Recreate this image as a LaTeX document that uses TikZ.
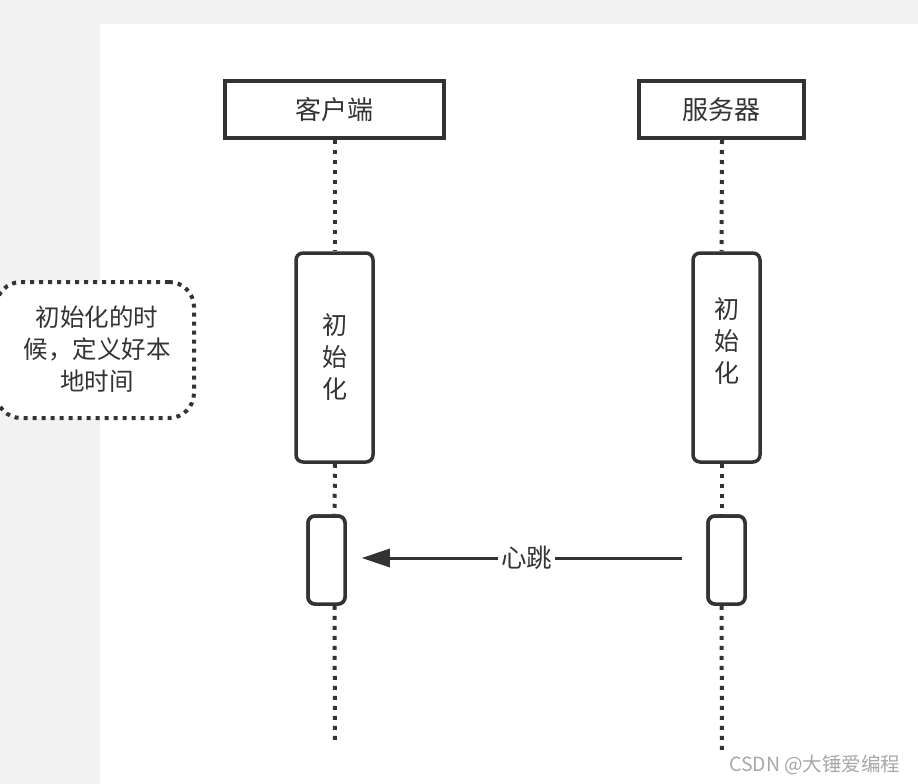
\documentclass[tikz,border=0pt]{standalone}
\usepackage{fontspec}
\setmainfont{Noto Sans CJK SC}
\usetikzlibrary{arrows.meta}
\definecolor{ink}{HTML}{333333}
\definecolor{bggray}{HTML}{F2F2F2}
\definecolor{wm}{HTML}{A8A8A8}
\tikzset{
  headbox/.style={draw=ink, line width=4pt, fill=white, inner sep=0pt, font=\fontsize{26}{30}\selectfont, text=ink},
  actbox/.style={draw=ink, line width=3.5pt, fill=white, rounded corners=7pt, inner sep=0pt},
  acttext/.style={font=\fontsize{25}{32}\selectfont, text=ink, align=center},
  lifeline/.style={draw=ink, line width=4pt, dash pattern=on 4pt off 6pt},
  notebox/.style={draw=ink, line width=4pt, dash pattern=on 4pt off 5pt, rounded corners=25pt, fill=white, inner sep=0pt},
  notetext/.style={align=center, font=\fontsize{24.5}{32}\selectfont, text=ink},
  msg/.style={draw=ink, line width=3pt, -{Triangle[length=28pt,width=18pt]}},
  msglabel/.style={fill=white, inner xsep=3pt, inner ysep=2pt, font=\fontsize{25.5}{28}\selectfont, text=ink}
}
\begin{document}
\begin{tikzpicture}[x=1pt,y=-1pt]
\useasboundingbox (0,0) rectangle (918,784);
\fill[bggray] (0,0) rectangle (918,784);
\fill[white] (100,24) rectangle (918,784);

% heads
\node[headbox, minimum width=219pt, minimum height=57pt] (chead) at (334.5,109.5) {客户端};
\node[headbox, minimum width=165pt, minimum height=57pt] (shead) at (721.5,109.5) {服务器};

% activations
\node[actbox, minimum width=77pt, minimum height=209pt] (cact1) at (334.5,357.5) {};
\node[acttext] (ctext) at (335,357) {初\\始\\化};
\node[actbox, minimum width=67pt, minimum height=209pt] (sact1) at (726.5,357.5) {};
\node[acttext] (stext) at (727,341) {初\\始\\化};
\node[actbox, minimum width=37pt, minimum height=88pt] (cact2) at (326.5,560) {};
\node[actbox, minimum width=37pt, minimum height=88pt] (sact2) at (726.5,560) {};

\coordinate (cend) at (335,745);
\coordinate (send) at (722,752);

% lifelines
\draw[lifeline] ([xshift=0.5pt]chead.south) -- ([xshift=0.5pt]cact1.north);
\draw[lifeline] ([xshift=0.5pt]cact1.south) -- (cact1.south |- cact2.north);
\draw[lifeline] (cact1.south |- cact2.south) -- (cend);
\draw[lifeline] ([xshift=0.5pt]shead.south) -- (shead.south |- sact1.north);
\draw[lifeline] (shead.south |- sact1.south) -- (shead.south |- sact2.north);
\draw[lifeline] (shead.south |- sact2.south) -- (send);

% redraw activations over lifelines
\node[actbox, minimum width=37pt, minimum height=88pt] at (cact2) {};
\node[actbox, minimum width=37pt, minimum height=88pt] at (sact2) {};

% heartbeat
\draw[msg, shorten <=24pt, shorten >=15pt] ([yshift=2pt]sact2.west) -- node[msglabel, pos=0.5] (hb) {心跳} ([yshift=2pt]cact2.east);

% note
\node[notebox, minimum width=198pt, minimum height=136pt] (note) at (95,350) {};
\node[notetext] (notetext) at (97,349) {初始化的时\\候，定义好本\\地时间};

% watermark
\node[font=\fontsize{19.5}{22}\selectfont, text=wm, anchor=east] (wmark) at (904,765) {CSDN @大锤爱编程};
\end{tikzpicture}
\end{document}
